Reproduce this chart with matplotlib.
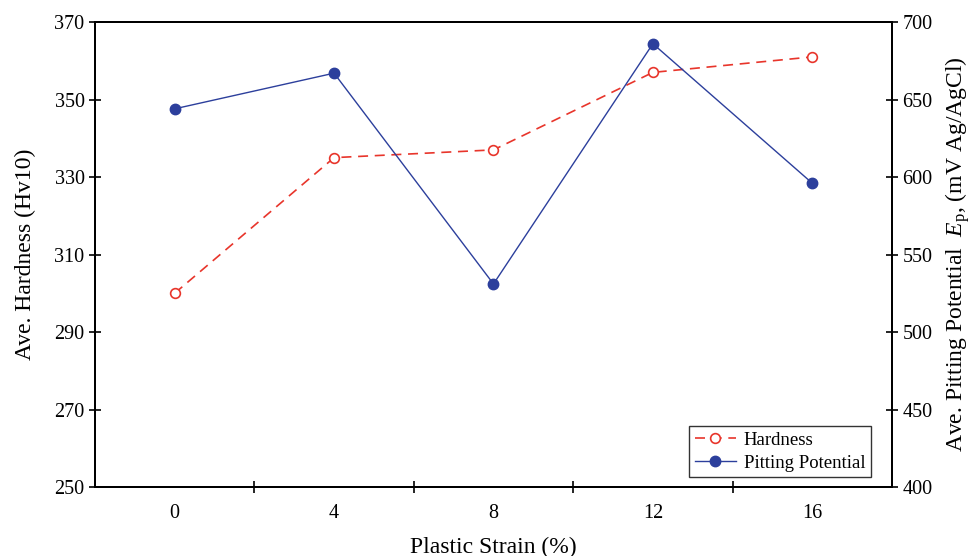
import matplotlib
matplotlib.use("Agg")
import matplotlib.pyplot as plt
from matplotlib.ticker import FixedLocator

plt.rcParams['font.family'] = ['Liberation Serif', 'DejaVu Serif']
plt.rcParams['mathtext.fontset'] = 'custom'
plt.rcParams['mathtext.rm'] = 'Liberation Serif'
plt.rcParams['mathtext.it'] = 'Liberation Serif:italic'

strain = [0, 4, 8, 12, 16]
hardness = [300, 335, 337, 357, 361]
pitting = [644, 667, 531, 686, 596]
left_ticks = [250, 270, 290, 310, 330, 350, 370]
right_ticks = [400, 450, 500, 550, 600, 650, 700]
minor_x = [2, 6, 10, 14]

red = '#e8352b'
blue = '#2c3f9c'

fig = plt.figure(figsize=(9.74, 5.56), dpi=100)
ax = fig.add_axes([0.0975, 0.1241, 0.8183, 0.8363])
ax2 = ax.twinx()

l1, = ax.plot(strain, hardness, color=red, linestyle=(0, (6, 4)), linewidth=1.2,
              marker='o', markersize=7, markerfacecolor='white', markeredgecolor=red,
              markeredgewidth=1.2, label='Hardness')
l2, = ax2.plot(strain, pitting, color=blue, linewidth=1.0,
               marker='o', markersize=7.5, markerfacecolor=blue, markeredgecolor=blue,
               label='Pitting Potential')

ax.set_xlim(-2, 18)
ax.set_ylim(250, 370)
ax2.set_ylim(400, 700)
ax.set_yticks(left_ticks)
ax2.set_yticks(right_ticks)
ax.set_xticks(strain)
ax.xaxis.set_minor_locator(FixedLocator(minor_x))

ax.tick_params(axis='x', which='major', length=0, pad=12, labelsize=14.5)
ax.tick_params(axis='x', which='minor', direction='inout', length=9, width=1.2)
ax.tick_params(axis='y', direction='inout', length=9, width=1.2, labelsize=14.5, pad=3)
ax2.tick_params(axis='y', direction='inout', length=9, width=1.2, labelsize=14.5, pad=3)

for a in (ax, ax2):
    for s in a.spines.values():
        s.set_linewidth(1.4)

ax.set_xlabel('Plastic Strain (%)', fontsize=17, labelpad=10)
ax.set_ylabel('Ave. Hardness (Hv10)', fontsize=17, labelpad=13)
ax2.set_ylabel(r'Ave. Pitting Potential  $E_{\mathrm{p}}$, (mV Ag/AgCl)', fontsize=17, labelpad=8)

leg = ax2.legend(handles=[l1, l2], loc='lower right', bbox_to_anchor=(0.9735, 0.021),
                 fontsize=13.5, frameon=True, fancybox=False, edgecolor='black',
                 handlelength=2.2, borderpad=0.3, labelspacing=0.3, handletextpad=0.4,
                 borderaxespad=0)
leg.get_frame().set_linewidth(1.0)

fig.savefig('out.png', dpi=100)
